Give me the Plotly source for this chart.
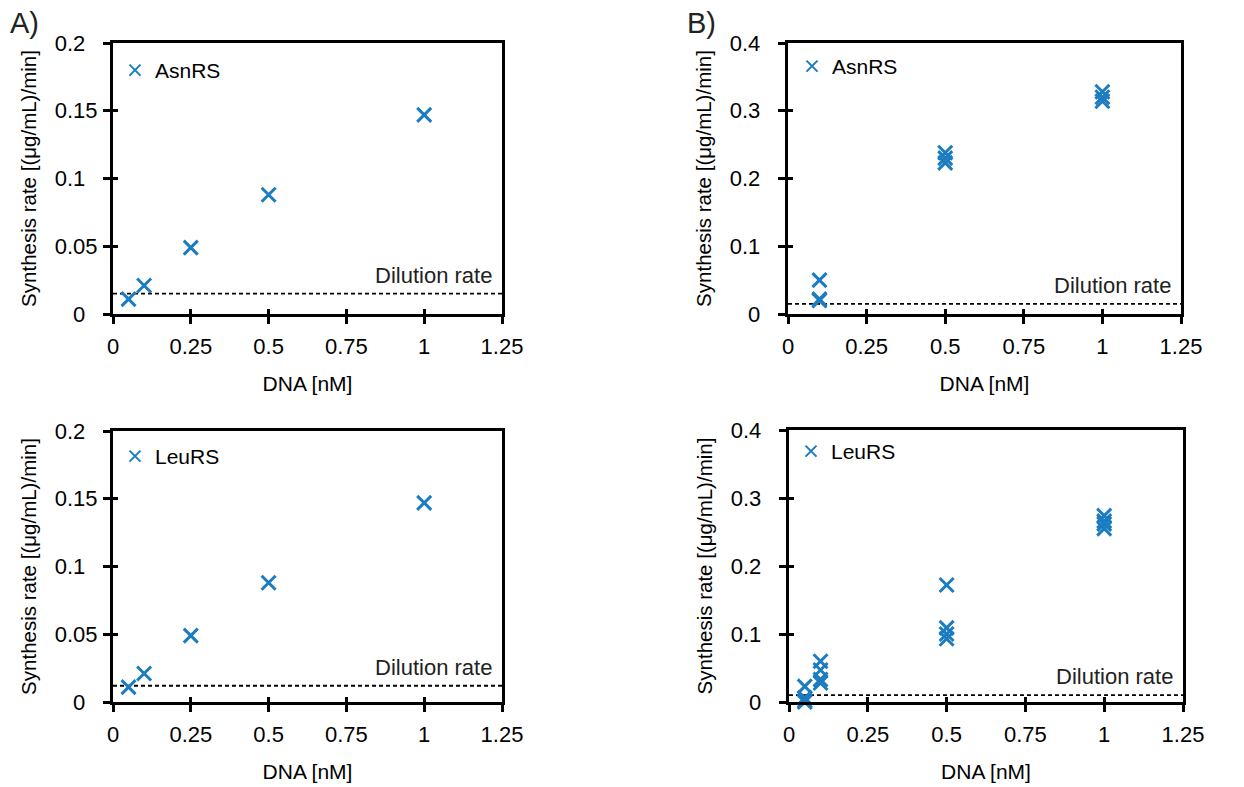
import plotly.graph_objects as go

# ---- data ----
asn_a_x = [0.05, 0.1, 0.25, 0.5, 1.0]
asn_a_y = [0.011, 0.021, 0.049, 0.088, 0.147]
asn_a_dil = 0.015

leu_a_x = [0.05, 0.1, 0.25, 0.5, 1.0]
leu_a_y = [0.011, 0.021, 0.049, 0.088, 0.147]
leu_a_dil = 0.012

asn_b_x = [0.1, 0.1, 0.1, 0.5, 0.5, 0.5, 1.0, 1.0, 1.0]
asn_b_y = [0.050, 0.022, 0.020, 0.238, 0.230, 0.223, 0.328, 0.320, 0.314]
asn_b_dil = 0.015

leu_b_x = [0.05, 0.05, 0.05, 0.05, 0.1, 0.1, 0.1, 0.1, 0.5, 0.5, 0.5, 0.5, 1.0, 1.0, 1.0, 1.0]
leu_b_y = [0.023, 0.006, 0.002, 0.0, 0.060, 0.047, 0.033, 0.028,
           0.172, 0.109, 0.100, 0.093, 0.274, 0.266, 0.262, 0.255]
leu_b_dil = 0.010

x_range = [0, 1.25]
x_ticks = [0, 0.25, 0.5, 0.75, 1, 1.25]
x_ticktext = ["0", "0.25", "0.5", "0.75", "1", "1.25"]
ya_ticks = [0, 0.05, 0.1, 0.15, 0.2]
ya_ticktext = ["0", "0.05", "0.1", "0.15", "0.2"]
yb_ticks = [0, 0.1, 0.2, 0.3, 0.4]
yb_ticktext = ["0", "0.1", "0.2", "0.3", "0.4"]

BLUE = "#1b7cc0"
FONT = "Liberation Sans, Arial, sans-serif"
W, H = 1244, 787
PAD = "<span style='color:rgba(0,0,0,0)'>0</span>"


def pad_label(t, width=4):
    # labels are aligned as if every label had the same number of decimals
    need = width - len(t) if "." in t else width - 2 - len(t)
    return t + PAD * max(0, need)


panels = [
    # name, xs, ys, dil, xdom px, ydom px, yrange, yticks, yticktext, legend, legend offset (dx, dy)
    ("AsnRS", asn_a_x, asn_a_y, asn_a_dil, (113, 502), (43, 314), [0, 0.2], ya_ticks, ya_ticktext, "legend", (3, 7)),
    ("AsnRS", asn_b_x, asn_b_y, asn_b_dil, (788, 1181), (43, 314), [0, 0.4], yb_ticks, yb_ticktext, "legend2", (5, 3)),
    ("LeuRS", leu_a_x, leu_a_y, leu_a_dil, (113, 502), (431, 702), [0, 0.2], ya_ticks, ya_ticktext, "legend3", (3, 5)),
    ("LeuRS", leu_b_x, leu_b_y, leu_b_dil, (789, 1183), (430, 702), [0, 0.4], yb_ticks, yb_ticktext, "legend4", (3, 1)),
]

fig = go.Figure()
layout = dict(
    width=W, height=H,
    margin=dict(l=0, r=0, t=0, b=0, autoexpand=False),
    paper_bgcolor="white", plot_bgcolor="white",
    font=dict(family=FONT, size=21, color="black"),
    showlegend=True,
)
annotations = []

for i, (name, xs, ys, dil, xd, yd, yr, yt, ytt, leg, loff) in enumerate(panels):
    n = i + 1
    sx = "" if n == 1 else str(n)
    xa, ya = "x" + sx, "y" + sx
    ox, oy = "x" + str(n + 4), "y" + str(n + 4)
    xdom = [xd[0] / W, xd[1] / W]
    ydom = [1 - yd[1] / H, 1 - yd[0] / H]
    fig.add_trace(go.Scatter(
        x=[x_range[0], x_range[1]], y=[dil, dil], mode="lines",
        line=dict(color="black", width=1.8, dash="4px,3px"),
        xaxis=xa, yaxis=ya, showlegend=False, hoverinfo="skip"))
    fig.add_trace(go.Scatter(
        x=xs, y=ys, mode="markers", name=name, showlegend=False,
        marker=dict(symbol="x-thin", size=14, line=dict(color=BLUE, width=3), color=BLUE),
        xaxis=xa, yaxis=ya, cliponaxis=False))
    # legend entry (smaller symbol as in the original legend); sits on the overlay x axis
    fig.add_trace(go.Scatter(
        x=[None], y=[None], mode="markers", name=name, legend=leg,
        marker=dict(symbol="x-thin", size=11, line=dict(color=BLUE, width=2), color=BLUE),
        xaxis=ox, yaxis=ya))
    # empty trace so the overlay y axis (inner tick halves) gets drawn
    fig.add_trace(go.Scatter(x=[None], y=[None], mode="markers", showlegend=False,
                             hoverinfo="skip", xaxis=xa, yaxis=oy))
    axcommon = dict(showline=True, linecolor="black", linewidth=3, mirror=True,
                    ticks="outside", ticklen=7, tickwidth=3, tickcolor="black",
                    showgrid=False, zeroline=False,
                    tickfont=dict(family=FONT, size=22, color="black"))
    layout["xaxis" + sx] = dict(axcommon, domain=xdom, range=x_range, anchor=ya,
                                tickvals=x_ticks, ticktext=x_ticktext,
                                ticklabelstandoff=4,
                                title=dict(text="DNA [nM]", font=dict(size=21), standoff=18))
    layout["yaxis" + sx] = dict(axcommon, domain=ydom, range=yr, anchor=xa,
                                tickvals=yt, ticktext=[pad_label(t) for t in ytt],
                                ticklabelstandoff=1,
                                title=dict(text="Synthesis rate [(μg/mL)/min]", font=dict(size=20.5), standoff=13))
    # overlay axes giving the inner half of the crossing tick marks
    layout["xaxis" + str(n + 4)] = dict(overlaying=xa, anchor=ya, side="bottom", range=x_range, tickvals=x_ticks,
                                        ticks="inside", ticklen=5, tickwidth=3, tickcolor="black",
                                        showticklabels=False, showline=False, showgrid=False, zeroline=False)
    layout["yaxis" + str(n + 4)] = dict(overlaying=ya, anchor=xa, side="left", range=yr, tickvals=yt,
                                        ticks="inside", ticklen=5, tickwidth=3, tickcolor="black",
                                        showticklabels=False, showline=False, showgrid=False, zeroline=False)
    layout[leg] = dict(
        x=(xd[0] - 1 + loff[0]) / W, y=1 - (yd[0] + loff[1]) / H, xanchor="left", yanchor="top",
        bgcolor="rgba(0,0,0,0)", font=dict(family=FONT, size=21, color="black"),
        itemsizing="trace")
    annotations.append(dict(
        x=x_range[1], y=dil, xref=xa, yref=ya, text="Dilution rate",
        showarrow=False, xanchor="right", yanchor="bottom", xshift=-8, yshift=4,
        font=dict(family=FONT, size=22, color="#222222")))

annotations.append(dict(x=8 / W, y=1 - 5 / H, xref="paper", yref="paper", text="A)",
                        showarrow=False, xanchor="left", yanchor="top",
                        font=dict(family=FONT, size=29, color="#222222")))
annotations.append(dict(x=685 / W, y=1 - 5 / H, xref="paper", yref="paper", text="B)",
                        showarrow=False, xanchor="left", yanchor="top",
                        font=dict(family=FONT, size=29, color="#222222")))
layout["annotations"] = annotations
fig.update_layout(**layout)
fig.write_html("out.html")
